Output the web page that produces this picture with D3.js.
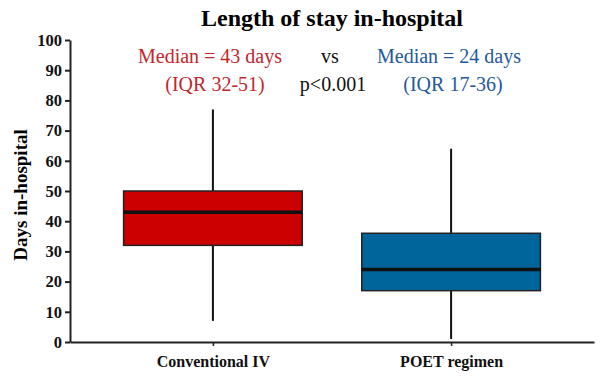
<!DOCTYPE html>
<html>
<head>
<meta charset="utf-8">
<script src="https://cdn.jsdelivr.net/npm/d3@7"></script>
<style>
  body { margin: 0; background: #fff; }
  text { font-family: "Liberation Serif", "Times New Roman", serif; }
</style>
</head>
<body>
<div id="chart"></div>
<script>
// Box plot data (days in hospital)
const groups = ["Conventional IV", "POET regimen"];
const whiskerLow = [7, 1];
const q1 = [32, 17];
const median = [43, 24];
const q3 = [50, 36];
const whiskerHigh = [77, 64];
const boxColors = ["#cc0000", "#00659b"];
const yTicks = [0, 10, 20, 30, 40, 50, 60, 70, 80, 90, 100];

const width = 602, height = 388;
const margin = { top: 40, right: 8, bottom: 46, left: 70 };
const innerW = width - margin.left - margin.right;
const innerH = height - margin.top - margin.bottom;

const svg = d3.select("#chart").append("svg")
    .attr("width", width)
    .attr("height", height);

const g = svg.append("g")
    .attr("transform", "translate(" + margin.left + "," + margin.top + ")");

const x = d3.scalePoint()
    .domain(groups)
    .range([0, innerW])
    .padding(0.6);

const y = d3.scaleLinear()
    .domain([0, 100])
    .range([innerH, 0]);

const boxW = x.step() * 0.75;

// axes
const yAxis = g.append("g")
    .call(d3.axisLeft(y).tickValues(yTicks).tickSize(5).tickSizeOuter(0));
yAxis.select(".domain").attr("stroke", "#222").attr("stroke-width", 2);
yAxis.selectAll(".tick line").attr("stroke", "#222").attr("stroke-width", 2);
yAxis.selectAll(".tick text")
    .attr("x", -8)
    .attr("font-size", 16.5).attr("font-weight", "bold").attr("fill", "#111");

const xAxis = g.append("g")
    .attr("transform", "translate(0," + innerH + ")")
    .call(d3.axisBottom(x).tickSize(4).tickSizeOuter(0));
xAxis.select(".domain").attr("stroke", "#222").attr("stroke-width", 2);
xAxis.selectAll(".tick line").attr("stroke", "#222").attr("stroke-width", 1.5);
xAxis.selectAll(".tick text")
    .attr("dy", "1.1em")
    .attr("font-size", 16).attr("font-weight", "bold").attr("fill", "#111");

// boxes
const data = groups.map((name, i) => ({
    name: name, lo: whiskerLow[i], q1: q1[i], med: median[i],
    q3: q3[i], hi: whiskerHigh[i], color: boxColors[i]
}));

const box = g.selectAll(".box")
    .data(data)
    .enter().append("g")
    .attr("class", "box");

box.append("line")
    .attr("x1", d => x(d.name)).attr("x2", d => x(d.name))
    .attr("y1", d => y(d.lo)).attr("y2", d => y(d.hi))
    .attr("stroke", "#111").attr("stroke-width", 2);

box.append("rect")
    .attr("x", d => x(d.name) - boxW / 2)
    .attr("width", boxW)
    .attr("y", d => y(d.q3))
    .attr("height", d => y(d.q1) - y(d.q3))
    .attr("fill", d => d.color)
    .attr("stroke", "#222").attr("stroke-width", 1.5);

box.append("line")
    .attr("x1", d => x(d.name) - boxW / 2).attr("x2", d => x(d.name) + boxW / 2)
    .attr("y1", d => y(d.med)).attr("y2", d => y(d.med))
    .attr("stroke", "#111").attr("stroke-width", 3.5);

// title and y label
svg.append("text")
    .attr("x", 332).attr("y", 26)
    .attr("text-anchor", "middle")
    .attr("font-size", 24).attr("font-weight", "bold")
    .text("Length of stay in-hospital");

svg.append("text")
    .attr("transform", "translate(27,195) rotate(-90)")
    .attr("text-anchor", "middle")
    .attr("font-size", 19).attr("font-weight", "bold")
    .text("Days in-hospital");

// annotations
const notes = [
    { x: 210, y: 63, text: "Median = 43 days", color: "#c4262c" },
    { x: 215, y: 91, text: "(IQR 32-51)", color: "#c4262c" },
    { x: 330, y: 63, text: "vs", color: "#111" },
    { x: 333, y: 91, text: "p<0.001", color: "#111" },
    { x: 449, y: 63, text: "Median = 24 days", color: "#23599c" },
    { x: 453, y: 91, text: "(IQR 17-36)", color: "#23599c" }
];

svg.selectAll(".note")
    .data(notes)
    .enter().append("text")
    .attr("class", "note")
    .attr("x", d => d.x).attr("y", d => d.y)
    .attr("text-anchor", "middle")
    .attr("font-size", 20)
    .attr("fill", d => d.color)
    .text(d => d.text);
</script>
</body>
</html>
